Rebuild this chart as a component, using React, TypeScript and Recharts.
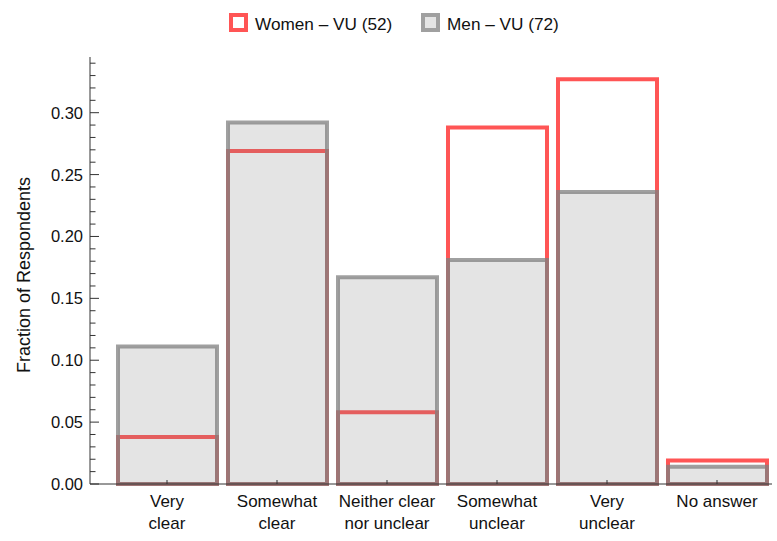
import { BarChart, Bar, XAxis, YAxis, Legend } from "recharts";

const categories = [
  "Very\nclear",
  "Somewhat\nclear",
  "Neither clear\nnor unclear",
  "Somewhat\nunclear",
  "Very\nunclear",
  "No answer",
];
const womenShare = [0.038, 0.269, 0.058, 0.288, 0.327, 0.019];
const menShare = [0.111, 0.292, 0.167, 0.181, 0.236, 0.014];
const seriesNames = ["Women \u2013 VU (52)", "Men \u2013 VU (72)"];
const yTicks = [
  0, 0.01, 0.02, 0.03, 0.04, 0.05, 0.06, 0.07, 0.08, 0.09, 0.1, 0.11, 0.12,
  0.13, 0.14, 0.15, 0.16, 0.17, 0.18, 0.19, 0.2, 0.21, 0.22, 0.23, 0.24, 0.25,
  0.26, 0.27, 0.28, 0.29, 0.3, 0.31, 0.32, 0.33, 0.34,
];
const yMajor = [0, 0.05, 0.1, 0.15, 0.2, 0.25, 0.3];

const data = categories.map((category, i) => ({
  category,
  women: womenShare[i],
  men: menShare[i],
}));

const FONT = "'Liberation Sans', Arial, sans-serif";
const AXIS = "#333";
const RED = "rgb(255,85,85)";

function YTick(props: any) {
  const { x, y, payload } = props;
  const major = yMajor.some((m) => Math.abs(m - payload.value) < 1e-6);
  return (
    <g>
      <line x1={x} x2={x + (major ? 9 : 5.5)} y1={y} y2={y} stroke={AXIS} />
      {major && (
        <text
          x={x - 7}
          y={y}
          dy="0.36em"
          textAnchor="end"
          fontFamily={FONT}
          fontSize={16.5}
          fill="#111"
        >
          {payload.value.toFixed(2)}
        </text>
      )}
    </g>
  );
}

function XTick(props: any) {
  const { x, y, payload } = props;
  const lines = String(payload.value).split("\n");
  return (
    <g>
      <line x1={x} x2={x} y1={y} y2={y - 4} stroke={AXIS} />
      {lines.map((t, i) => (
        <text
          key={i}
          x={x}
          y={y + 23 + i * 22}
          textAnchor="middle"
          fontFamily={FONT}
          fontSize={17}
          fill="#111"
        >
          {t}
        </text>
      ))}
    </g>
  );
}

function LegendBox() {
  const text = {
    position: "absolute" as const,
    top: 14,
    lineHeight: "20px",
    fontFamily: FONT,
    fontSize: 17.2,
    color: "#111",
    whiteSpace: "nowrap" as const,
  };
  const box = {
    position: "absolute" as const,
    top: 13,
    width: 19,
    height: 19,
    boxSizing: "border-box" as const,
    borderWidth: 4,
    borderStyle: "solid",
  };
  return (
    <div style={{ position: "relative", width: 777, height: 30 }}>
      <div style={{ ...box, left: 229, borderColor: RED, background: "#fff" }} />
      <div style={{ ...text, left: 255 }}>{seriesNames[0]}</div>
      <div style={{ ...box, left: 421, borderColor: "#a0a0a0", background: "#e4e4e4" }} />
      <div style={{ ...text, left: 447 }}>{seriesNames[1]}</div>
    </div>
  );
}

export default function App() {
  return (
    <div style={{ position: "absolute", left: 0, top: 0, width: 777, height: 541 }}>
      <BarChart
        width={777}
        height={541}
        data={data}
        margin={{ top: 27, right: 5, bottom: 7, left: 30 }}
      >
        <Legend
          verticalAlign="top"
          content={() => <LegendBox />}
          wrapperStyle={{ left: 0, top: 0, width: 777 }}
        />
        <XAxis
          xAxisId="a"
          dataKey="category"
          interval={0}
          padding={{ left: 22, right: 0 }}
          height={50}
          tickSize={0}
          tickMargin={0}
          tick={<XTick />}
          axisLine={{ stroke: AXIS }}
        />
        <XAxis
          xAxisId="b"
          dataKey="category"
          padding={{ left: 22, right: 0 }}
          height={0}
          hide
        />
        <YAxis
          width={60}
          domain={[0, 0.345]}
          ticks={yTicks}
          interval={0}
          tickSize={0}
          tickMargin={0}
          tick={<YTick />}
          axisLine={{ stroke: AXIS }}
          label={{
            content: () => (
              <text
                x={24}
                y={275}
                transform="rotate(-90 24 275)"
                textAnchor="middle"
                dominantBaseline="central"
                fontFamily={FONT}
                fontSize={18}
                fill="#111"
              >
                Fraction of Respondents
              </text>
            ),
          }}
        />
        <Bar
          xAxisId="a"
          dataKey="women"
          barSize={99}
          fill="none"
          stroke={RED}
          strokeWidth={4}
          isAnimationActive={false}
        />
        <Bar
          xAxisId="b"
          dataKey="men"
          barSize={99}
          fill="rgb(128,128,128)"
          fillOpacity={0.21}
          stroke="rgb(128,128,128)"
          strokeOpacity={0.75}
          strokeWidth={4}
          isAnimationActive={false}
        />
      </BarChart>
    </div>
  );
}
